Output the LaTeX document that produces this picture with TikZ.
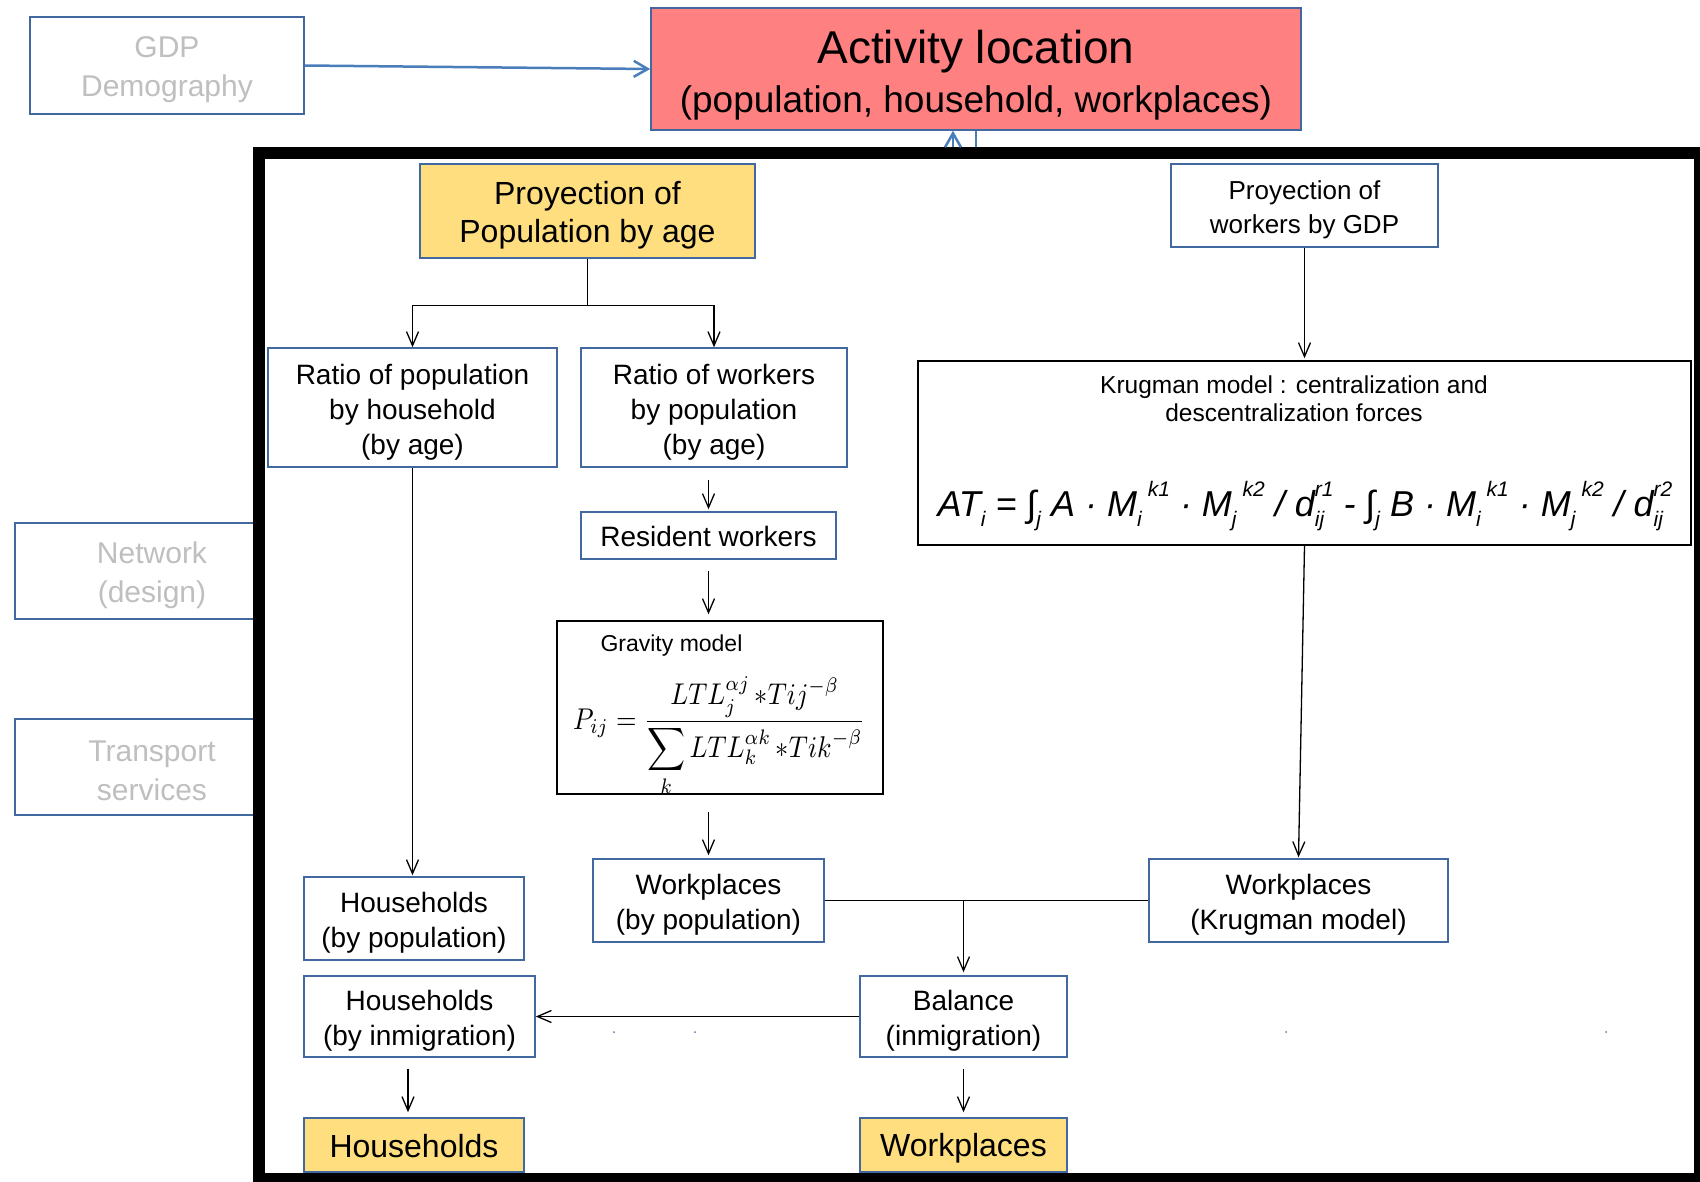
\documentclass[tikz,border=0pt]{standalone}
\usepackage{fontspec}
\setmainfont{Liberation Sans}
\usepackage{graphicx}
\usetikzlibrary{arrows.meta}
\definecolor{bblue}{RGB}{65,105,160}
\definecolor{larrow}{RGB}{74,126,187}
\definecolor{gtext}{RGB}{191,191,191}
\definecolor{redfill}{RGB}{255,128,128}
\definecolor{yfill}{RGB}{255,222,128}
\newcommand{\lsub}[1]{\raisebox{-0.28em}{\fontsize{21}{21}\selectfont #1}}
\newcommand{\lsup}[1]{\raisebox{0.55em}{\fontsize{21}{21}\selectfont #1}}
\newcommand{\lsubsup}[2]{\rlap{\lsub{#1}}\lsup{#2}}
\newcommand{\sth}[1]{\rule{0pt}{#1}}
\begin{document}
\begin{tikzpicture}[x=1pt,y=-1pt,
  bbox/.style={draw=bblue,line width=1.5pt,fill=white,align=center,inner sep=0pt},
  kbox/.style={draw=black,line width=1.5pt,fill=white,inner sep=0pt},
  arr/.style={draw=black,line width=1.3pt,-{Straight Barb[length=14pt,width=12pt]}},
  ln/.style={draw=black,line width=1.6pt},
  barr/.style={draw=larrow,line width=2.5pt,-{Straight Barb[length=14pt,width=16pt]}},
  bln/.style={draw=larrow,line width=2.5pt},
  f28/.style={font=\fontsize{28}{35}\selectfont},
  f32/.style={font=\fontsize{32}{38}\selectfont},
  gray/.style={text=gtext,font=\fontsize{30}{39}\selectfont}]
\useasboundingbox[fill=white] (0,0) rectangle (1700,1181);

% outside boxes
\node[bbox,gray,minimum width=274pt,minimum height=97pt] (gdp) at (167,65.5) {\sth{28.5pt}GDP\\Demography};
\node[bbox,gray,minimum width=274pt,minimum height=96pt] (net) at (152,571) {\sth{30pt}Network\\(design)};
\node[bbox,gray,minimum width=274pt,minimum height=96pt] (trs) at (152,767) {\sth{29pt}Transport\\services};
\node[bbox,fill=redfill,minimum width=650pt,minimum height=122pt,font=\fontsize{37}{49}\selectfont] (act) at (976,69)
  {\sth{46pt}{\fontsize{46}{50}\selectfont Activity location}\\(population, household, workplaces)};
\draw[barr] (gdp.east) -- (act.west);

% frame
\draw[line width=12pt,fill=white] (259,152.5) rectangle (1700,1179);
\coordinate (fa) at (953,147);
\coordinate (fb) at (976,147);
\draw[barr] (fa) -- (fa |- act.south);
\draw[bln] (fb) -- (fb |- act.south);

% inner boxes
\node[bbox,f32,fill=yfill,minimum width=335pt,minimum height=94pt] (pop) at (587.5,211) {\sth{32pt}Proyection of\\Population by age};
\node[bbox,font=\fontsize{26}{34}\selectfont,minimum width=267pt,minimum height=83pt] (wg) at (1304.5,205.5) {\sth{26.5pt}Proyection of\\workers by GDP};
\node[bbox,f28,minimum width=289pt,minimum height=119pt] (rp) at (412.5,407.5) {\sth{29pt}Ratio of population\\by household\\(by age)};
\node[bbox,f28,minimum width=266pt,minimum height=119pt] (rw) at (714,407.5) {\sth{29pt}Ratio of workers\\by population\\(by age)};
\node[bbox,f28,minimum width=255pt,minimum height=47pt] (res) at (708.5,535.5) {\sth{22pt}Resident workers};
\node[kbox,minimum width=326pt,minimum height=173pt] (grav) at (720,707.5) {};
\node[anchor=west,font=\fontsize{23}{28}\selectfont] (gravt) at (597,646) {Gravity model};
\node[anchor=base west,inner sep=0pt] (gravf) at (573,729)
  {\scalebox{2.64}[3.0]{$\displaystyle P_{ij}=\frac{\displaystyle LTL_j^{\alpha j}\,{*}Tij^{-\beta}}{\displaystyle\sum_k LTL_k^{\alpha k}\,{*}Tik^{-\beta}}$}};
\node[bbox,f28,minimum width=231pt,minimum height=83pt] (wp) at (708.5,900.5) {\sth{29pt}Workplaces\\(by population)};
\node[bbox,f28,minimum width=220pt,minimum height=83pt] (hp) at (414,918.5) {\sth{29pt}Households\\(by population)};
\node[kbox,minimum width=773pt,minimum height=184pt] (kr) at (1304.5,453) {};
\node[align=center,font=\fontsize{24.5}{28}\selectfont] (krt) at (1294,399) {Krugman model : centralization and\\descentralization forces};
\node[font=\fontsize{36}{40}\selectfont\itshape] (krf) at (1305,506)
  {AT\lsub{i} = ∫\lsub{j} A · M\lsub{i}\,\lsup{k1} · M\lsub{j}\,\lsup{k2} / d\lsubsup{ij}{r1} - ∫\lsub{j} B · M\lsub{i}\,\lsup{k1} · M\lsub{j}\,\lsup{k2} / d\lsubsup{ij}{r2}};
\node[bbox,f28,minimum width=299pt,minimum height=83pt] (wk) at (1298.5,900.5) {\sth{29pt}Workplaces\\(Krugman model)};
\node[bbox,f28,minimum width=207pt,minimum height=81pt] (bal) at (963.5,1016.5) {\sth{29pt}Balance\\(inmigration)};
\node[bbox,f28,minimum width=231pt,minimum height=81pt] (hi) at (419.5,1016.5) {\sth{29pt}Households\\(by inmigration)};
\node[bbox,f32,fill=yfill,minimum width=220pt,minimum height=54pt] (hh) at (414,1145) {\sth{26pt}Households};
\node[bbox,f32,fill=yfill,minimum width=207pt,minimum height=54pt] (wy) at (963.5,1145) {\sth{29.5pt}Workplaces};

% connectors
\draw[arr] (pop.south) -- ++(0,47) -| (rp.north);
\draw[arr] (pop.south) -- ++(0,47) -| (rw.north);
\draw[arr,shorten <=12pt,shorten >=2pt] (res.north |- rw.south) -- (res.north);
\draw[arr,shorten <=11pt,shorten >=6pt] (res.south) -- (res.south |- grav.north);
\draw[arr,shorten <=17pt,shorten >=3pt] (wp.north |- grav.south) -- (wp.north);
\draw[arr,shorten >=1pt] (rp.south) -- (rp.south |- hp.north);
\draw[arr,shorten >=2pt] (wg.south) -- (kr.north);
\draw[arr,shorten >=1pt] (kr.south) -- (wk.north);
\draw[ln] (wp.east) -- (wk.west);
\draw[arr,shorten >=3pt] (bal.north |- wp.east) -- (bal.north);
\draw[arr] (bal.west) -- (hi.east);
\coordinate (hx) at ([xshift=-6pt]hh.north);
\draw[arr,shorten <=11pt,shorten >=5pt] (hx |- hi.south) -- (hx);
\draw[arr,shorten <=11pt,shorten >=5pt] (bal.south) -- (wy.north);

% stray dots
\fill[larrow] (614,1032) circle (1pt);
\fill[larrow] (695,1032) circle (1pt);
\fill[larrow] (1286,1032) circle (1pt);
\fill[larrow] (1606,1032) circle (1pt);
\end{tikzpicture}
\end{document}
